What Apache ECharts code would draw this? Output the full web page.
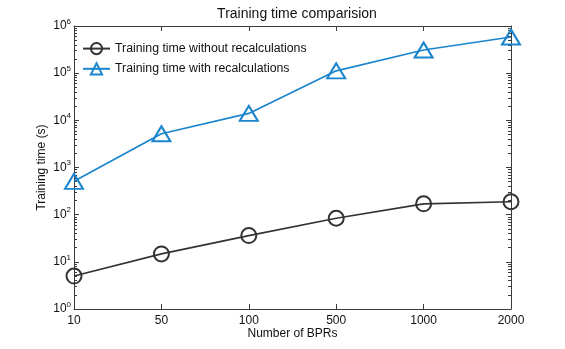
<!DOCTYPE html>
<html>
<head>
<meta charset="utf-8">
<script src="https://cdn.jsdelivr.net/npm/echarts@6/dist/echarts.min.js"></script>
<style>
  html, body { margin: 0; padding: 0; background: #fff; }
  #chart { width: 565px; height: 349px; }
</style>
</head>
<body>
<div id="chart"></div>
<script>
const categories = ['10', '50', '100', '500', '1000', '2000']
const withoutRecalc = [5, 14.7, 36, 84, 170, 188]
const withRecalc = [510, 5200, 14000, 112000, 310000, 585000]
const seriesNames = ['Training time without recalculations', 'Training time with recalculations']
const minorTickValues = []
for (let e = 0; e < 6; e++) {
  for (let m = 2; m <= 9; m++) minorTickValues.push(m * Math.pow(10, e))
}

const font = 'Liberation Sans, Arial, sans-serif'
const axisColor = '#3a3a3a'
const black = '#333333'
const blue = '#1a85cc'

const chart = echarts.init(document.getElementById('chart'))

const logAxis = (extra) => Object.assign({
  type: 'log',
  logBase: 10,
  min: 1,
  max: 1000000,
  splitNumber: 6,
  axisLine: { show: true, lineStyle: { color: axisColor, width: 1 } },
  axisTick: { show: true, inside: true, length: 5, lineStyle: { color: axisColor } },
  axisLabel: { show: false },
  splitLine: { show: false }
}, extra)

chart.setOption({
  animation: false,
  title: {
    text: 'Training time comparision',
    left: 292,
    textAlign: 'center',
    top: 2,
    textStyle: { fontFamily: font, fontSize: 14, fontWeight: 'normal', color: '#111' }
  },
  legend: {
    left: 82,
    top: 42,
    padding: 0,
    orient: 'vertical',
    itemGap: 7,
    itemWidth: 27,
    itemHeight: 14,
    textStyle: { fontFamily: font, fontSize: 12.3, color: '#111' },
    data: seriesNames
  },
  grid: { left: 74, right: 54, top: 26, bottom: 40 },
  xAxis: [{
    type: 'category',
    data: categories,
    boundaryGap: false,
    name: 'Number of BPRs',
    nameLocation: 'middle',
    nameMoveOverlap: false,
    nameGap: 19,
    nameTextStyle: { fontFamily: font, fontSize: 12, color: '#111' },
    axisLine: { show: true, lineStyle: { color: axisColor } },
    axisTick: { show: true, inside: true, length: 5, alignWithLabel: true, lineStyle: { color: axisColor } },
    axisLabel: { fontFamily: font, fontSize: 12, color: '#111', margin: 6 },
    splitLine: { show: false }
  }, {
    type: 'category',
    data: categories,
    boundaryGap: false,
    position: 'top',
    axisLine: { show: true, lineStyle: { color: axisColor } },
    axisTick: { show: true, inside: true, length: 5, lineStyle: { color: axisColor } },
    axisLabel: { show: false },
    splitLine: { show: false }
  }],
  yAxis: [
    logAxis({
      position: 'left',
      name: 'Training time (s)',
      nameLocation: 'middle',
      nameMoveOverlap: false,
      nameGap: 26,
      nameTextStyle: { fontFamily: font, fontSize: 12, color: '#111' },
      axisLabel: {
        show: true,
        margin: 3,
        formatter: v => '10{s|' + Math.round(Math.log10(v)) + '}',
        fontFamily: font,
        fontSize: 12,
        color: '#111',
        rich: { s: { fontFamily: font, fontSize: 8, color: '#111', padding: [0, 0, 9, 0] } }
      }
    }),
    logAxis({ position: 'right' }),
    logAxis({
      position: 'left',
      axisLine: { show: false },
      axisTick: { show: true, inside: true, length: 3, customValues: minorTickValues, lineStyle: { color: axisColor } }
    }),
    logAxis({
      position: 'right',
      axisLine: { show: false },
      axisTick: { show: true, inside: true, length: 3, customValues: minorTickValues, lineStyle: { color: axisColor } }
    })
  ],
  series: [{
    name: seriesNames[0],
    type: 'line',
    data: withoutRecalc,
    symbol: 'circle',
    symbolSize: 15,
    lineStyle: { color: black, width: 1.7 },
    itemStyle: { color: 'rgba(255,255,255,0)', borderColor: black, borderWidth: 2 }
  }, {
    name: seriesNames[1],
    type: 'line',
    data: withRecalc,
    symbol: 'triangle',
    symbolSize: [18, 15],
    lineStyle: { color: blue, width: 1.7 },
    itemStyle: { color: 'rgba(255,255,255,0)', borderColor: blue, borderWidth: 2 }
  }]
})
</script>
</body>
</html>
